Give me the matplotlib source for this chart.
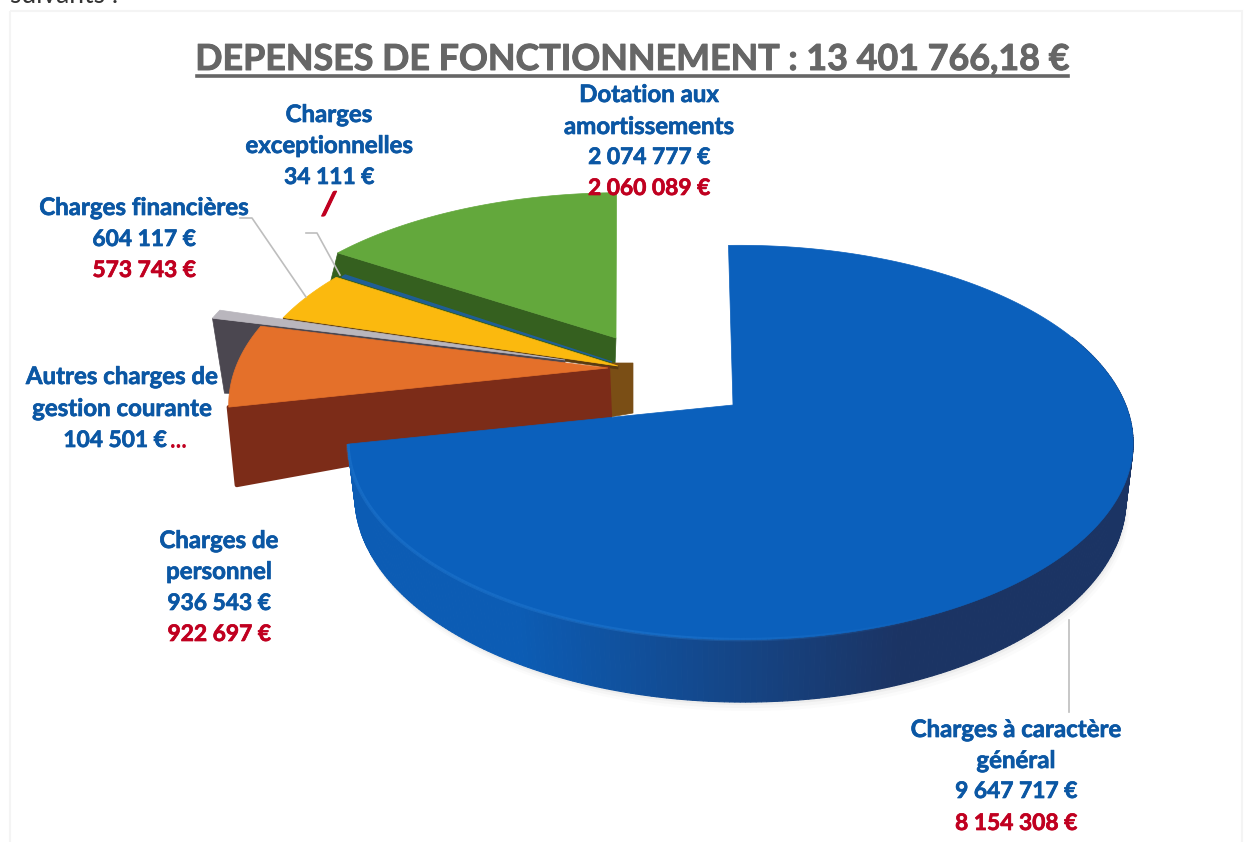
import numpy as np
import matplotlib
matplotlib.use("Agg")
import matplotlib.pyplot as plt
import matplotlib.patheffects as pe
from matplotlib.patches import Polygon, Rectangle

# ---- data
categories = ["Charges à caractère général", "Charges de personnel",
              "Autres charges de gestion courante", "Charges financières",
              "Charges exceptionnelles", "Dotation aux amortissements"]
values_current = [9647717, 936543, 104501, 604117, 34111, 2074777]
values_previous = ["8 154 308 €", "922 697 €", "...", "573 743 €", "/", "2 060 089 €"]
title_text = "DEPENSES DE FONCTIONNEMENT : 13 401 766,18 €"

# ---- styles
top_colors = ["#0B60BC", "#E4702A", "#B9B6BD", "#FBB90E", "#1F5E96", "#63A83C"]
face_colors = [None, "#7C2C18", "#4B4750", "#5A3A10", "#1F4F70", "#35601F"]
apex = [(733, 405), (608, 368), (565, 360), (618, 366), (612, 362), (616, 338)]
scale = [(1, 1), (.985, 1), (1, 1), (.97, .97), (.93, .93), (.97, .91)]
rot = [0, 0, 0, 0, 0, 0.9]
face_rim = [None, (8, 78), (12, 75), (0, 3), (0, 3), (-8, 32)]
face_apex = [None, (2, 49), (0, 40), (0, 3), (0, 3), (-1, 28)]
TH0 = -0.8
A, B, K, M = 385.3, 190.0, .19, .0188
BLUE = "#0B57A4"
RED = "#C00020"
FONT = "Lato"
LABEL_SIZE = 17.3
NUMBER_SIZE = 16.4


def proj(th, sx=1.0, sy=1.0):
    t = np.radians(th)
    u, v = np.sin(t), np.cos(t)
    w = 1 + K * v - M * u
    return A * u / w * sx, -B * v / w * sy, w


fig = plt.figure(figsize=(12.52, 8.42), dpi=100, facecolor="white")
ax = fig.add_axes([0, 0, 1, 1])
ax.set_xlim(0, 1252)
ax.set_ylim(842, 0)
ax.axis("off")

ax.add_patch(Rectangle((10, 11), 1232, 850, fill=False, ec="#F4F4F4", lw=1.5, zorder=0))

total = sum(values_current)
sweeps = [v / total * 360 for v in values_current]
starts = [TH0 + sum(sweeps[:i]) for i in range(len(sweeps))]


def wedge(i):
    ths = np.linspace(starts[i], starts[i] + sweeps[i] + rot[i], max(4, int(sweeps[i] * 2)))
    sx, sy = scale[i]
    x, y, _ = proj(ths, sx, sy)
    ax0, ay0 = apex[i]
    return np.column_stack([np.r_[ax0, ax0 + x], np.r_[ay0, ay0 + y]])


def rim_point(i, th):
    sx, sy = scale[i]
    x, y, _ = proj(th, sx, sy)
    return apex[i][0] + x, apex[i][1] + y


def cut_face(i, th, z):
    rx, ry = rim_point(i, th)
    a0, a1 = apex[i]
    dr, da = face_rim[i], face_apex[i]
    pts = [(rx, ry), (a0, a1), (a0 + da[0], a1 + da[1]), (rx + dr[0], ry + dr[1])]
    ax.add_patch(Polygon(pts, closed=True, fc=face_colors[i], ec=face_colors[i],
                         lw=3 if i == 1 else .5, joinstyle="round", zorder=z))


# green
cut_face(5, starts[5], 2)
ax.add_patch(Polygon(wedge(5), closed=True, fc=top_colors[5], ec=top_colors[5], lw=.5, zorder=3))
# brown inner block behind the apex
ya = apex[3]
ax.add_patch(Polygon([(ya[0] - 8, ya[1] - 3), (ya[0] + 15, ya[1] - 3), (ya[0] + 15, ya[1] + 47),
                      (ya[0] - 8, ya[1] + 51)], closed=True, fc="#7A4E15", ec="#7A4E15",
                     lw=.5, zorder=3.5))
# exceptional
ax.add_patch(Polygon(wedge(4), closed=True, fc=top_colors[4], ec=top_colors[4], lw=1, zorder=4))
# yellow
cut_face(3, starts[3], 4.5)
ax.add_patch(Polygon(wedge(3), closed=True, fc=top_colors[3], ec=top_colors[3], lw=.5, zorder=5))
# gray
cut_face(2, starts[2], 5.5)
ax.add_patch(Polygon(wedge(2), closed=True, fc=top_colors[2], ec=top_colors[2], lw=.5, zorder=6))
# orange
cut_face(1, starts[1], 6.5)
ax.add_patch(Polygon(wedge(1), closed=True, fc=top_colors[1], ec=top_colors[1], lw=.5, zorder=7))

# blue: shadow, side, top
ths = np.linspace(starts[0], starts[0] + sweeps[0], 400)
x, y, w = proj(ths)
cx, cy = apex[0]
F, D = .982, 54
bx = cx + F * x
by = cy + F * y + D / w
tx = cx + x
ty = cy + y

vis = ths > 68
for off, al in [(9, .02), (6, .03), (3, .05)]:
    ax.fill(np.r_[bx[vis] + off * .4, tx[vis][::-1]], np.r_[by[vis] + off, ty[vis][::-1]],
            color="#555555", alpha=al, lw=0, zorder=7.5)

c_light = np.array(matplotlib.colors.to_rgb("#0C5CB4"))
c_dark = np.array(matplotlib.colors.to_rgb("#1B3464"))
for j in range(len(ths) - 1):
    if ths[j] < 68:
        continue
    f = np.clip((tx[j] - 520) / (900 - 520), 0, 1)
    col = c_light * (1 - f) + c_dark * f
    ax.add_patch(Polygon([(tx[j], ty[j]), (tx[j + 1], ty[j + 1]), (bx[j + 1], by[j + 1]), (bx[j], by[j])],
                         closed=True, fc=col, ec=col, lw=.8, zorder=8))
ax.add_patch(Polygon(wedge(0), closed=True, fc=top_colors[0], ec=top_colors[0], lw=.5, zorder=9))
for j in range(len(ths) - 1):
    if ths[j] > 150:
        al = min(.3, (ths[j] - 150) / 120)
        ax.plot(tx[j:j + 2], ty[j:j + 2], color="#2F86DC", lw=2.5, alpha=al, zorder=9.5,
                solid_capstyle="butt")

# leader lines
leaders = [([1069, 1069], [620, 712]),
           ([240, 252, 306], [218, 218, 297]),
           ([306, 317, 340], [233, 233, 275])]
for lx, ly in leaders:
    ax.plot(lx, ly, color="#BEBEBE", lw=1.2, zorder=10)

# title
ax.text(632.5, 59.5, title_text, ha="center", va="center", fontsize=25.8, family=FONT,
        fontweight="bold", color="#666666", zorder=12,
        path_effects=[pe.withStroke(linewidth=.7, foreground="#666666")])
ax.plot([197, 1068], [75.5, 75.5], color="#666666", lw=2.6, zorder=12)
ax.text(10, 3, "suivants :", ha="left", va="baseline", fontsize=19, family=FONT,
        color="#333333", zorder=12)


def fmt(v):
    return f"{v:,}".replace(",", " ") + " €"


labels = [
    (1016, [("Charges à caractère", 728, BLUE), ("général", 759, BLUE),
            (fmt(values_current[0]), 790, BLUE), (values_previous[0], 822, RED)]),
    (219, [("Charges de", 539, BLUE), ("personnel", 570, BLUE),
           (fmt(values_current[1]), 602, BLUE), (values_previous[1], 633, RED)]),
    (122, [("Autres charges de", 375, BLUE), ("gestion courante", 407, BLUE)]),
    (144, [("Charges financières", 206, BLUE), (fmt(values_current[3]), 238, BLUE),
           (values_previous[3], 269, RED)]),
    (329, [("Charges", 113, BLUE), ("exceptionnelles", 144, BLUE),
           (fmt(values_current[4]), 176, BLUE)]),
    (649, [("Dotation aux", 93, BLUE), ("amortissements", 125, BLUE),
           (fmt(values_current[5]), 156, BLUE), (values_previous[5], 187, RED)]),
]
for xc, lines in labels:
    for s, yc, col in lines:
        size = NUMBER_SIZE if s[0].isdigit() else LABEL_SIZE
        ax.text(xc, yc + 1.5, s, ha="center", va="center", fontsize=size, family=FONT,
                fontweight="bold", color=col, zorder=13,
                path_effects=[pe.withStroke(linewidth=.5, foreground=col)])
ax.text(115, 440.5, fmt(values_current[2]), ha="center", va="center", fontsize=NUMBER_SIZE,
        family=FONT, fontweight="bold", color=BLUE, zorder=13,
        path_effects=[pe.withStroke(linewidth=.5, foreground=BLUE)])
ax.text(178, 440, values_previous[2], ha="center", va="center", fontsize=LABEL_SIZE,
        family=FONT, fontweight="bold", color=RED, zorder=13)
ax.text(329, 205, values_previous[4], ha="center", va="center", fontsize=23,
        family=FONT, fontweight="bold", style="italic", color=RED, zorder=13,
        path_effects=[pe.withStroke(linewidth=.8, foreground=RED)])

fig.savefig("out.png", dpi=100)
